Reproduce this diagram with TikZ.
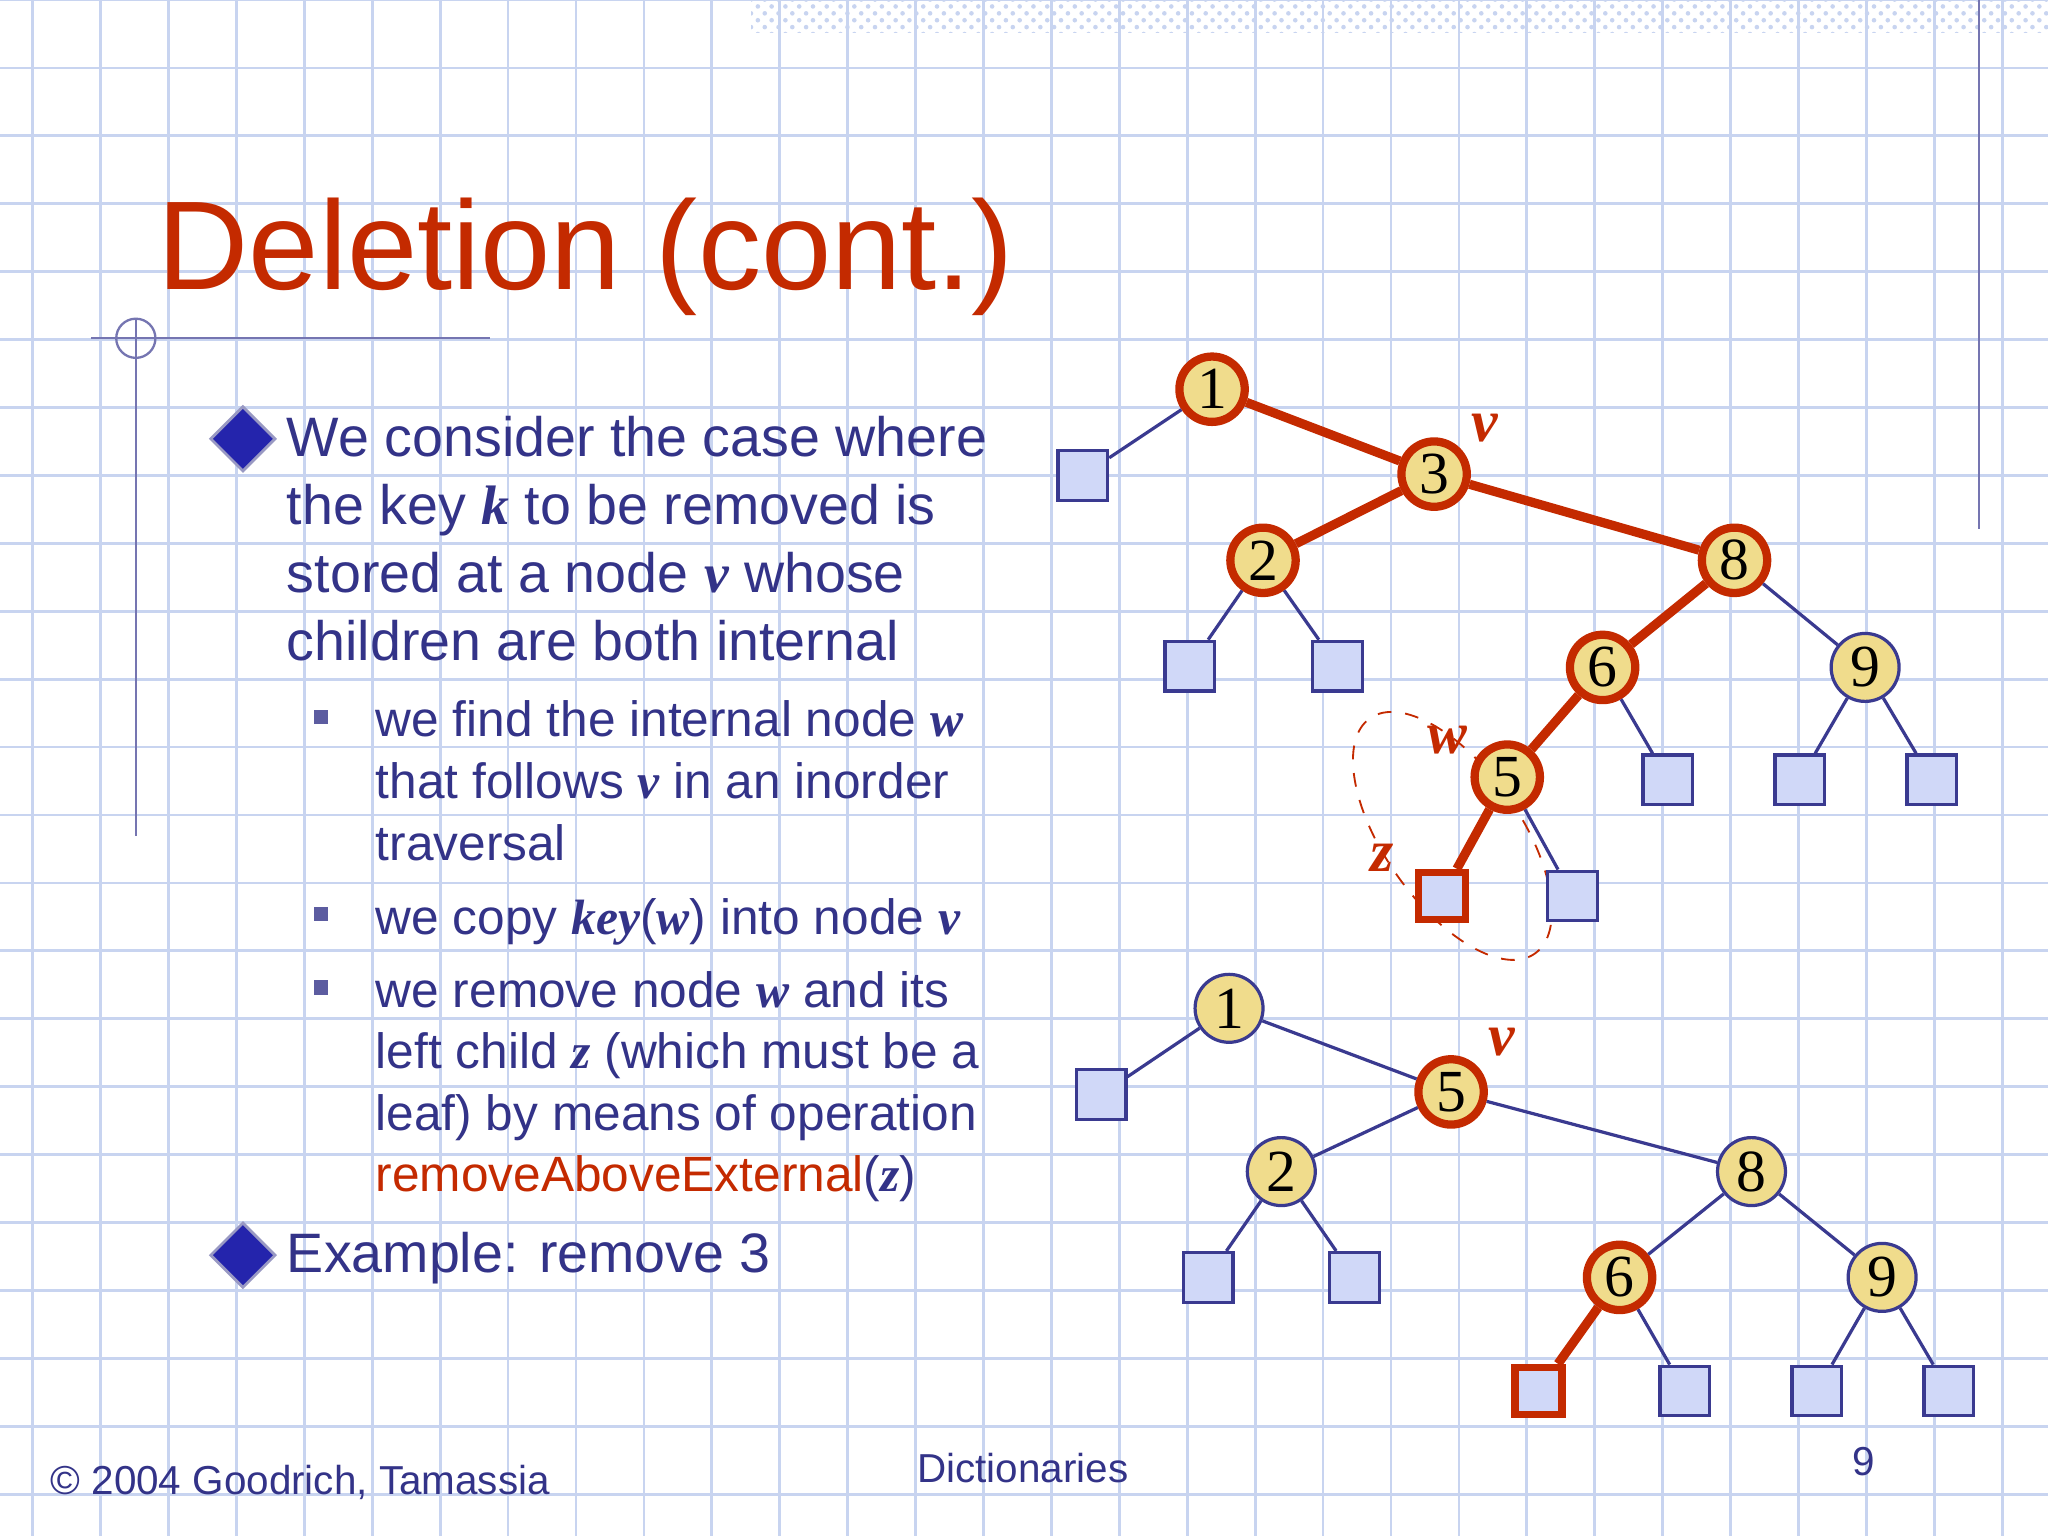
\documentclass[tikz,border=0pt]{standalone}
\usepackage{fontspec}
\setmainfont{Liberation Sans}
\newfontfamily\serf{Liberation Serif}
\usetikzlibrary{patterns,shapes.geometric}
\definecolor{tred}{HTML}{C42A00}
\definecolor{ttext}{HTML}{333388}
\definecolor{gridc}{HTML}{C8D4F0}
\definecolor{ylw}{HTML}{F0DC8C}
\definecolor{lfill}{HTML}{D0D8F8}
\definecolor{lblue}{HTML}{3A3A90}
\newcommand{\mi}[1]{{\serf\bfseries\itshape #1}}
\begin{document}
\begin{tikzpicture}[x=0.01cm,y=-0.01cm,
  inode/.style={circle,draw=tred,line width=1.8pt,fill=ylw,minimum size=0.5cm,inner sep=0,font=\serf\fontsize{13}{13}\selectfont},
  bnode/.style={circle,draw=lblue,line width=0.7pt,fill=ylw,minimum size=0.52cm,inner sep=0,font=\serf\fontsize{13}{13}\selectfont},
  leaf/.style={rectangle,draw=lblue,line width=0.7pt,fill=lfill,minimum size=0.38cm,inner sep=0},
  rleaf/.style={rectangle,draw=tred,line width=1.6pt,fill=lfill,minimum size=0.36cm,inner sep=0},
  ed/.style={draw=lblue,line width=0.7pt},
  red/.style={draw=tred,line width=2pt},
  lab/.style={text=tred,font=\serf\bfseries\itshape\fontsize{13}{13}\selectfont},
  body/.style={text=ttext,anchor=north west,align=left,inner sep=0},
  dia/.style={diamond,fill=ttext!70!blue,draw=ttext!50,line width=0.6pt,minimum size=0.5cm,inner sep=0},
  sq/.style={rectangle,fill=ttext!80,minimum size=0.11cm,inner sep=0}]
\useasboundingbox (0,0) rectangle (1568,1176);
\fill[white] (0,0) rectangle (1568,1176);
\foreach \x in {25,77,...,1568} \draw[gridc,line width=0.6pt] (\x,0) -- (\x,1176);
\foreach \y in {0,52,...,1176} \draw[gridc,line width=0.6pt] (0,\y) -- (1568,\y);
\fill[pattern=crosshatch dots,pattern color=gridc] (575,0) rectangle (1568,25);
\draw[lblue!70,line width=0.5pt] (1515,0) -- (1515,405);
\draw[lblue!70,line width=0.5pt] (70,259) -- (375,259);
\draw[lblue!70,line width=0.5pt] (104,245) -- (104,640);
\draw[lblue!70,line width=0.5pt] (104,259) circle (15);
\node[anchor=base west,text=tred,inner sep=0,font=\fontsize{27.5}{28}\selectfont] (title) at (120,222) {Deletion (cont.)};
\node[dia] (d1) at (186,336) {};
\node[body,font=\fontsize{12.1}{14.8}\selectfont] (t1) at (219,318) {We consider the case where\\the key \mi{k} to be removed is\\stored at a node \mi{v} whose\\children are both internal};
\node[sq] (s1) at (246,549) {};
\node[body,font=\fontsize{10.8}{13.4}\selectfont] (t2) at (287,536) {we find the internal node \mi{w}\\that follows \mi{v} in an inorder\\traversal};
\node[sq] (s2) at (246,700) {};
\node[body,font=\fontsize{10.8}{13.4}\selectfont] (t3) at (287,687) {we copy \mi{key}({\serf\itshape\bfseries w}) into node \mi{v}};
\node[sq] (s3) at (246,756) {};
\node[body,font=\fontsize{10.8}{13.4}\selectfont] (t4) at (287,743) {we remove node \mi{w} and its\\left child \mi{z} (which must be a\\leaf) by means of operation\\\textcolor{tred}{removeAboveExternal}(\mi{z})};
\node[dia] (d2) at (186,961) {};
\node[body,font=\fontsize{12.1}{14.8}\selectfont] (t5) at (219,943) {Example: remove 3};
% tree 1
\draw[tred,dashed,line width=0.4pt,rotate around={35:(1112,640)}] (1112,640) ellipse (52 and 110);
\node[inode] (a1) at (928,298) {1};
\node[inode] (a3) at (1098,363) {3};
\node[inode] (a2) at (967,429) {2};
\node[inode] (a8) at (1328,429) {8};
\node[inode] (a6) at (1227,511) {6};
\node[bnode] (a9) at (1428,511) {9};
\node[inode] (a5) at (1154,595) {5};
\node[leaf] (l1) at (829,364) {};
\node[leaf] (l2) at (911,510) {};
\node[leaf] (l3) at (1024,510) {};
\node[leaf] (l4) at (1277,597) {};
\node[leaf] (l5) at (1378,597) {};
\node[leaf] (l6) at (1479,597) {};
\node[rleaf] (lz) at (1104,686) {};
\node[leaf] (l7) at (1204,686) {};
\draw[ed] (a1) -- (l1); \draw[ed] (a2) -- (l2); \draw[ed] (a2) -- (l3);
\draw[ed] (a6) -- (l4); \draw[ed] (a9) -- (l5); \draw[ed] (a9) -- (l6);
\draw[ed] (a5) -- (l7); \draw[ed] (a8) -- (a9);
\draw[red] (a1) -- (a3); \draw[red] (a3) -- (a2); \draw[red] (a3) -- (a8);
\draw[red] (a8) -- (a6); \draw[red] (a6) -- (a5); \draw[red] (a5) -- (lz);
\node[lab] (v1) at (1137,328) {v};
\node[lab] (w1) at (1108,567) {w};
\node[lab] (z1) at (1058,657) {z};
% tree 2
\node[bnode] (b1) at (941,772) {1};
\node[inode] (b5) at (1111,836) {5};
\node[bnode] (b2) at (981,897) {2};
\node[bnode] (b8) at (1341,897) {8};
\node[inode] (b6) at (1240,978) {6};
\node[bnode] (b9) at (1441,978) {9};
\node[leaf] (m1) at (843,838) {};
\node[leaf] (m2) at (925,978) {};
\node[leaf] (m3) at (1037,978) {};
\node[rleaf] (mz) at (1178,1065) {};
\node[leaf] (m4) at (1290,1065) {};
\node[leaf] (m5) at (1391,1065) {};
\node[leaf] (m6) at (1492,1065) {};
\draw[ed] (b1) -- (m1); \draw[ed] (b1) -- (b5); \draw[ed] (b5) -- (b2); \draw[ed] (b5) -- (b8);
\draw[ed] (b2) -- (m2); \draw[ed] (b2) -- (m3); \draw[ed] (b8) -- (b6); \draw[ed] (b8) -- (b9);
\draw[ed] (b6) -- (m4); \draw[ed] (b9) -- (m5); \draw[ed] (b9) -- (m6);
\draw[red] (b6) -- (mz);
\node[lab] (v2) at (1150,798) {v};
% footer
\node[anchor=base west,text=ttext,inner sep=0,font=\fontsize{8.8}{10}\selectfont] (f1) at (38,1144) {© 2004 Goodrich, Tamassia};
\node[anchor=base,text=ttext,inner sep=0,font=\fontsize{8.8}{10}\selectfont] (f2) at (783,1135) {Dictionaries};
\node[anchor=base,text=ttext,inner sep=0,font=\fontsize{8.8}{10}\selectfont] (f3) at (1427,1130) {9};
\end{tikzpicture}
\end{document}
